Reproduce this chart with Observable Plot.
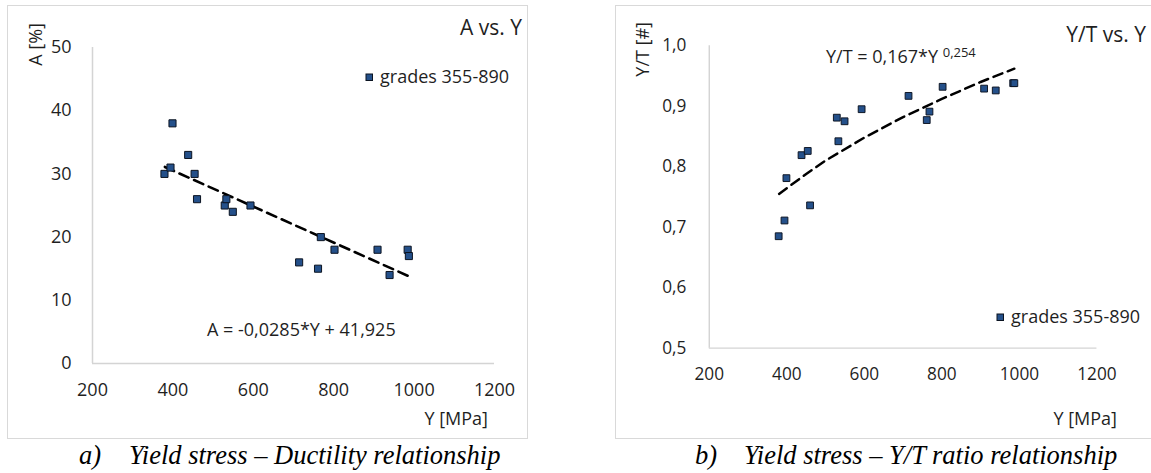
<!DOCTYPE html>
<html>
<head>
<meta charset="utf-8">
<script src="https://cdn.jsdelivr.net/npm/d3@7"></script>
<script src="https://cdn.jsdelivr.net/npm/@observablehq/plot@0.6"></script>
<style>
  html, body { margin: 0; padding: 0; background: #fff; }
  #page { position: relative; width: 1151px; height: 473px; overflow: hidden; background: #fff; }
  .panel { position: absolute; box-sizing: border-box; border: 1px solid #d9d9d9; }
  .chart { position: absolute; }
  #overlay { position: absolute; left: 0; top: 0; }
  .lbl { font-family: "Open Sans", sans-serif; font-size: 18px; fill: #1f1f1f; }
  .ttl { font-family: "Open Sans", sans-serif; font-size: 21px; fill: #1f1f1f; }
  .cap { font-family: "Liberation Serif", "Times New Roman", serif; font-style: italic; font-size: 26.5px; fill: #000; }
</style>
</head>
<body>
<div id="page">
  <div class="panel" style="left:7px;top:5px;width:521px;height:434px;"></div>
  <div class="panel" style="left:615px;top:5px;width:600px;height:434px;"></div>
  <div id="left" class="chart" style="left:7px;top:5px;"></div>
  <div id="right" class="chart" style="left:615px;top:5px;"></div>
  <svg id="overlay" width="1151" height="473">
    <!-- left panel texts -->
    <text class="ttl" x="522" y="35" text-anchor="end">A vs. Y</text>
    <rect x="366" y="74" width="6.5" height="6.5" fill="#24508a" stroke="#0b1320" stroke-width="1"></rect>
    <text class="lbl" x="380" y="83">grades 355-890</text>
    <text class="lbl" x="207" y="336">A = -0,0285*Y + 41,925</text>
    <text class="lbl" x="488" y="425" text-anchor="end">Y [MPa]</text>
    <text class="lbl" transform="translate(42,23) rotate(-90)" text-anchor="end">A [%]</text>
    <text class="cap" x="79" y="464">a)</text>
    <text class="cap" x="129" y="464">Yield stress – Ductility relationship</text>
    <!-- right panel texts -->
    <text class="ttl" x="1146" y="42" text-anchor="end">Y/T vs. Y</text>
    <text class="lbl" x="826" y="63">Y/T = 0,167*Y <tspan font-size="13px" dy="-6">0,254</tspan></text>
    <rect x="997" y="314" width="6.5" height="6.5" fill="#24508a" stroke="#0b1320" stroke-width="1"></rect>
    <text class="lbl" x="1011" y="323">grades 355-890</text>
    <text class="lbl" x="1117" y="425" text-anchor="end">Y [MPa]</text>
    <text class="lbl" transform="translate(649,22) rotate(-90)" text-anchor="end">Y/T [#]</text>
    <text class="cap" x="695" y="464">b)</text>
    <text class="cap" x="744" y="464">Yield stress – Y/T ratio relationship</text>
  </svg>
</div>
<script>
// ---- data ----
const yieldStress = [379, 394, 399, 438, 454, 460, 529, 533, 549, 593, 714, 761, 768, 802, 909, 939, 984, 987];
const elongation  = [30, 31, 38, 33, 30, 26, 25, 26, 24, 25, 16, 15, 20, 18, 18, 14, 18, 17];
const ytRatio     = [0.685, 0.711, 0.781, 0.819, 0.826, 0.736, 0.881, 0.842, 0.875, 0.895, 0.917, 0.877, 0.891, 0.932, 0.929, 0.926, 0.938, 0.938];

// trendline readings
const trendA_Y  = [380, 987];
const trendA    = [31.1, 13.8];
const trendYT_Y = [380, 450, 500, 600, 700, 800, 900, 987];
const trendYT   = [0.755, 0.788, 0.810, 0.848, 0.882, 0.912, 0.940, 0.962];

// tick labels
const xTicks  = [200, 400, 600, 800, 1000, 1200];
const aTicks  = [0, 10, 20, 30, 40, 50];
const ytTicks = [0.5, 0.6, 0.7, 0.8, 0.9, 1.0];

// ---- build tables ----
const pointsA  = yieldStress.map((Y, i) => ({Y, A: elongation[i]}));
const pointsYT = yieldStress.map((Y, i) => ({Y, R: ytRatio[i]}));
const lineA  = trendA_Y.map((Y, i) => ({Y, A: trendA[i]}));
const lineYT = trendYT_Y.map((Y, i) => ({Y, R: trendYT[i]}));

const markerFill = "#24508a", markerStroke = "#0b1320";
const axisColor = "#d4d4d4";
const baseStyle = {fontFamily: "Open Sans, sans-serif", fontSize: "18px", color: "#1f1f1f", background: "transparent", overflow: "visible"};
const plainFmt = d => String(d);

const left = Plot.plot({
  width: 521, height: 434,
  marginLeft: 85, marginRight: 34, marginTop: 42, marginBottom: 76,
  style: baseStyle,
  x: {domain: [200, 1200]},
  y: {domain: [0, 50]},
  marks: [
    Plot.ruleX([200], {stroke: axisColor, strokeWidth: 1.5}),
    Plot.ruleY([0], {stroke: axisColor, strokeWidth: 1.5}),
    Plot.axisX(xTicks, {anchor: "bottom", tickSize: 0, tickPadding: 20, label: null, tickFormat: plainFmt}),
    Plot.axisY(aTicks, {anchor: "left", tickSize: 0, tickPadding: 21, label: null, tickFormat: plainFmt}),
    Plot.line(lineA, {x: "Y", y: "A", stroke: "#000", strokeWidth: 2.6, strokeDasharray: "10,6"}),
    Plot.dot(pointsA, {x: "Y", y: "A", symbol: "square", r: 4, fill: markerFill, stroke: markerStroke, strokeWidth: 1})
  ]
});
document.getElementById("left").appendChild(left);

const right = Plot.plot({
  width: 560, height: 434,
  marginLeft: 98, marginRight: 57, marginTop: 42, marginBottom: 76,
  style: baseStyle,
  x: {domain: [200, 1200]},
  y: {domain: [0.5, 1.0]},
  marks: [
    Plot.ruleX([200], {stroke: axisColor, strokeWidth: 1.5}),
    Plot.ruleY([0.5], {stroke: axisColor, strokeWidth: 1.5}),
    Plot.axisX(xTicks, {anchor: "bottom", tickSize: 0, tickPadding: 20, label: null, tickFormat: plainFmt}),
    Plot.axisY(ytTicks, {anchor: "left", tickSize: 0, tickPadding: 24, label: null, tickFormat: d => d.toFixed(1).replace(".", ",")}),
    Plot.line(lineYT, {x: "Y", y: "R", stroke: "#000", strokeWidth: 2.6, strokeDasharray: "10,6"}),
    Plot.dot(pointsYT, {x: "Y", y: "R", symbol: "square", r: 4, fill: markerFill, stroke: markerStroke, strokeWidth: 1})
  ]
});
document.getElementById("right").appendChild(right);
</script>
</body>
</html>
